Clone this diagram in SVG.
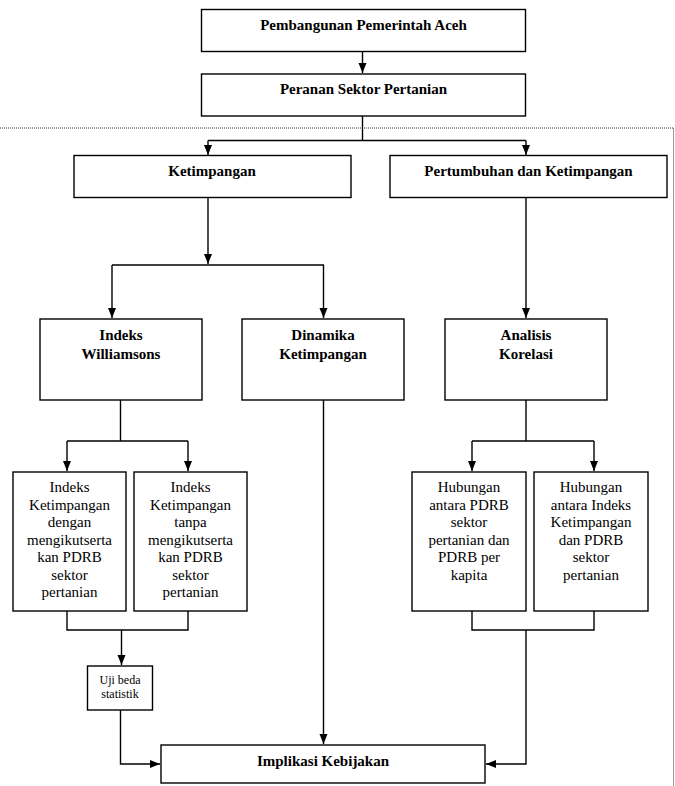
<svg xmlns="http://www.w3.org/2000/svg" width="675" height="786" viewBox="0 0 675 786">
<defs>
<marker id="ah" markerWidth="10" markerHeight="10" viewBox="0 0 10 10" refX="10" refY="5" orient="auto" markerUnits="userSpaceOnUse">
<path d="M0,1 L10,5 L0,9 Z" fill="#000"/>
</marker>
<style>
rect{fill:#fff;stroke:#000;stroke-width:1.4}
text{font-family:"Liberation Serif","Times New Roman",serif;fill:#000;text-anchor:middle}
.b{font-weight:bold;font-size:15px}
.r{font-size:15px}
.s{font-size:12px}
.c{fill:none;stroke:#000;stroke-width:1.4}
.a{marker-end:url(#ah)}
.d{fill:none;stroke:#333;stroke-width:1;stroke-dasharray:1,1}
</style>
</defs>
<path class="d" d="M0,128 H673.5 V786"/>
<g id="connectors">
<path class="c a" d="M362.5,52 V73"/>
<path class="c" d="M362.5,116 V140.5 M208,140.5 H526"/>
<path class="c a" d="M208,140.5 V155"/>
<path class="c a" d="M526,140.5 V155"/>
<path class="c a" d="M208,197 V264"/>
<path class="c" d="M112,265 H324"/>
<path class="c a" d="M112,265 V318"/>
<path class="c a" d="M323.5,265 V318"/>
<path class="c a" d="M526,197 V318"/>
<path class="c" d="M120.5,400 V441 M67,441 H188"/>
<path class="c a" d="M67,441 V471"/>
<path class="c a" d="M188,441 V471"/>
<path class="c" d="M526,400 V441 M472,441 H594"/>
<path class="c a" d="M472,441 V471"/>
<path class="c a" d="M594,441 V471"/>
<path class="c" d="M67,611 V630 H188 V611"/>
<path class="c a" d="M121.5,630 V665"/>
<path class="c a" d="M120.5,710 V764 H160"/>
<path class="c a" d="M323.5,400 V744"/>
<path class="c" d="M472,611 V630 H594 V611"/>
<path class="c a" d="M526,630 V764 H486"/>
</g>
<g id="n1"><rect x="201.5" y="9.5" width="324" height="42"/><text class="b" x="363.5" y="30">Pembangunan Pemerintah Aceh</text></g>
<g id="n2"><rect x="201.5" y="74" width="324" height="42"/><text class="b" x="363.5" y="94">Peranan Sektor Pertanian</text></g>
<g id="n3"><rect x="74" y="155.5" width="277" height="42"/><text class="b" x="212" y="175.5">Ketimpangan</text></g>
<g id="n4"><rect x="390" y="155.5" width="277" height="42"/><text class="b" x="528.5" y="175.5">Pertumbuhan dan Ketimpangan</text></g>
<g id="n5"><rect x="40" y="319" width="162" height="81"/><text class="b" x="121" y="340">Indeks</text><text class="b" x="121" y="358.5">Williamsons</text></g>
<g id="n6"><rect x="242" y="319" width="162" height="81"/><text class="b" x="323" y="340">Dinamika</text><text class="b" x="323" y="358.5">Ketimpangan</text></g>
<g id="n7"><rect x="445" y="319" width="162" height="81"/><text class="b" x="526" y="340">Analisis</text><text class="b" x="526" y="358.5">Korelasi</text></g>
<g id="n8"><rect x="13" y="472" width="113" height="139"/>
<text class="r" x="69.5" y="492">Indeks</text><text class="r" x="69.5" y="509.5">Ketimpangan</text><text class="r" x="69.5" y="527">dengan</text><text class="r" x="69.5" y="544.5">mengikutserta</text><text class="r" x="69.5" y="562">kan PDRB</text><text class="r" x="69.5" y="579.5">sektor</text><text class="r" x="69.5" y="597">pertanian</text></g>
<g id="n9"><rect x="134" y="472" width="113" height="139"/>
<text class="r" x="190.5" y="492">Indeks</text><text class="r" x="190.5" y="509.5">Ketimpangan</text><text class="r" x="190.5" y="527">tanpa</text><text class="r" x="190.5" y="544.5">mengikutserta</text><text class="r" x="190.5" y="562">kan PDRB</text><text class="r" x="190.5" y="579.5">sektor</text><text class="r" x="190.5" y="597">pertanian</text></g>
<g id="n10"><rect x="412" y="472" width="114" height="139"/>
<text class="r" x="469" y="492">Hubungan</text><text class="r" x="469" y="509.5">antara PDRB</text><text class="r" x="469" y="527">sektor</text><text class="r" x="469" y="544.5">pertanian dan</text><text class="r" x="469" y="562">PDRB per</text><text class="r" x="469" y="579.5">kapita</text></g>
<g id="n11"><rect x="534" y="472" width="114" height="139"/>
<text class="r" x="591" y="492">Hubungan</text><text class="r" x="591" y="509.5">antara Indeks</text><text class="r" x="591" y="527">Ketimpangan</text><text class="r" x="591" y="544.5">dan PDRB</text><text class="r" x="591" y="562">sektor</text><text class="r" x="591" y="579.5">pertanian</text></g>
<g id="n12"><rect x="87.5" y="666" width="65" height="44"/><text class="s" x="120" y="684">Uji beda</text><text class="s" x="120" y="697.5">statistik</text></g>
<g id="n13"><rect x="161" y="745" width="324" height="38"/><text class="b" x="323" y="766">Implikasi Kebijakan</text></g>
</svg>
